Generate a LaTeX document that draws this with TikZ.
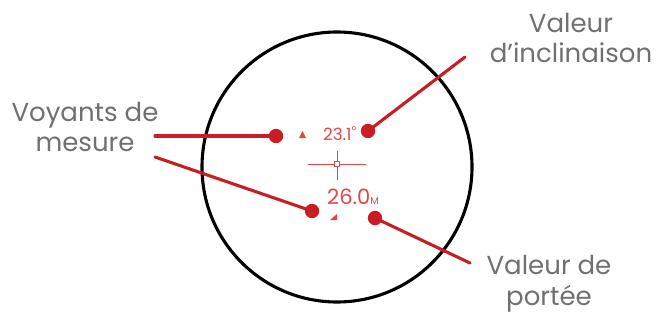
\documentclass[tikz,border=0pt]{standalone}
\usepackage{fontspec}
\setmainfont{Poppins}
\usetikzlibrary{calc,positioning}
\definecolor{lblgray}{RGB}{112,112,112}
\definecolor{lcdred}{RGB}{226,70,70}
\definecolor{callred}{RGB}{200,30,35}
\begin{document}
\begin{tikzpicture}[x=0.025cm, y=-0.025cm, line join=round, line cap=round]
  % styles
  \tikzset{
    label text/.style={text=lblgray, font=\fontsize{18.5}{22}\selectfont, align=center, inner sep=0pt},
    lcd text/.style={text=lcdred, inner sep=0pt},
    callout/.style={draw=callred, line width=2.2pt},
    dot/.style={circle, fill=callred, minimum size=0.36cm, inner sep=0pt}
  }
  \useasboundingbox (0,0) rectangle (657,323);

  % viewfinder
  \draw[line width=2.2pt] (337,167) circle[radius=135];

  % crosshair
  \draw[lcdred, line width=0.7pt] (308,164) -- (366,164);
  \draw[lcdred, line width=0.7pt] (337,151) -- (337,180);
  \draw[lcdred, fill=white, line width=0.6pt] (334.5,161.5) rectangle (339.5,166.5);

  % display readings
  \node[lcd text, font=\fontsize{12}{13}\selectfont] (tilt) at (340,134) {23.1\textsuperscript{°}};
  \fill[lcdred] (299,138) -- (306,138) -- (302.5,131) -- cycle;
  \node[lcd text, font=\fontsize{15}{16}\selectfont] (range) at (353,197) {26.0{\fontsize{7}{8}\selectfont M}};
  \fill[lcdred] (330,220) -- (337,220) -- (337,214) -- cycle;

  % labels
  \node[label text] (voy) at (85,127) {Voyants de\\mesure};
  \node[label text] (incl) at (571,38) {Valeur\\d’inclinaison};
  \node[label text] (port) at (549,284) {Valeur de\\portée};

  % dots
  \node[dot] (dA) at (276,136) {};
  \node[dot] (dB) at (312,211) {};
  \node[dot] (dC) at (368,131) {};
  \node[dot] (dD) at (375,218) {};

  % free ends
  \coordinate (vA) at (155,136);
  \coordinate (vB) at (155,157);
  \coordinate (iA) at (465,57);
  \coordinate (pA) at (470,263);

  % callouts
  \draw[callout] (vA) -- (dA.center);
  \draw[callout] (vB) -- (dB.center);
  \draw[callout] (iA) -- (dC.center);
  \draw[callout] (pA) -- (dD.center);
\end{tikzpicture}
\end{document}
